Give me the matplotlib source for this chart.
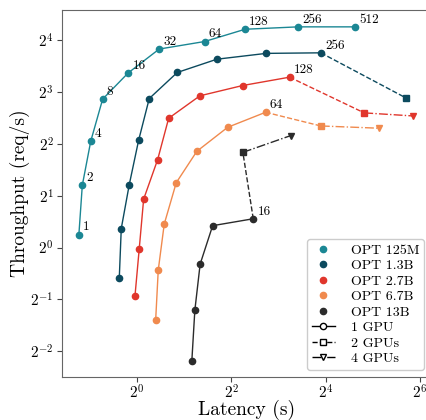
import matplotlib
matplotlib.use("Agg")
from matplotlib import pyplot as plt
from matplotlib.lines import Line2D
import numpy as np

plt.rcParams["font.family"] = "serif"
plt.rcParams["font.serif"] = ["cmr10", "DejaVu Serif"]
plt.rcParams["mathtext.fontset"] = "cm"
plt.rcParams["axes.unicode_minus"] = False

models = ["OPT 125M", "OPT 1.3B", "OPT 2.7B", "OPT 6.7B", "OPT 13B"]
colors = ["#1b8794", "#0c4a5e", "#e0362c", "#f08a4e", "#2b2b2b"]

# 1 GPU, batch sizes 1, 2, 4, ...
lat_125m = [0.426, 0.448, 0.507, 0.604, 0.880, 1.387, 2.70, 4.90, 10.7, 24.7]
thr_125m = [1.19, 2.30, 4.14, 7.27, 10.33, 14.2, 15.7, 18.5, 19.1, 19.1]
lat_1_3b = [0.771, 0.794, 0.893, 1.025, 1.198, 1.807, 3.24, 6.68, 14.9]
thr_1_3b = [0.662, 1.29, 2.32, 4.20, 7.33, 10.38, 12.4, 13.4, 13.5]
lat_2_7b = [0.971, 1.034, 1.103, 1.355, 1.593, 2.52, 4.72, 9.41]
thr_2_7b = [0.523, 0.985, 1.91, 3.24, 5.63, 7.60, 8.72, 9.75]
lat_6_7b = [1.316, 1.367, 1.493, 1.781, 2.41, 3.79, 6.62]
thr_6_7b = [0.379, 0.740, 1.37, 2.38, 3.62, 4.99, 6.10]
lat_13b = [2.24, 2.34, 2.53, 3.04, 5.52]
thr_13b = [0.221, 0.432, 0.802, 1.34, 1.47]

# 2 GPUs / 4 GPUs (None = not run)
lat_2gpu = [None, 52.0, 28.2, 14.9, 4.74]
thr_2gpu = [None, 7.39, 6.05, 5.08, 3.57]
lat_4gpu = [None, None, 57.3, 34.8, 9.60]
thr_4gpu = [None, None, 5.81, 4.93, 4.47]

lat_1gpu = [lat_125m, lat_1_3b, lat_2_7b, lat_6_7b, lat_13b]
thr_1gpu = [thr_125m, thr_1_3b, thr_2_7b, thr_6_7b, thr_13b]

fig = plt.figure(figsize=(4.27, 4.20), dpi=100)
ax = fig.add_axes([0.145, 0.102, 0.864, 0.874])
ax.set_xscale("log", base=2)
ax.set_yscale("log", base=2)

ms = 4.5
for i, name in enumerate(models):
    c = colors[i]
    lx, ty = lat_1gpu[i], thr_1gpu[i]
    ax.plot(lx, ty, "-", marker="o", color=c, lw=1.0, ms=ms, zorder=3)
    if lat_2gpu[i] is not None:
        ax.plot([lx[-1], lat_2gpu[i]], [ty[-1], thr_2gpu[i]], "--", color=c, lw=1.0, zorder=2)
        ax.plot(lat_2gpu[i], thr_2gpu[i], "s", color=c, ms=ms, zorder=3)
    if lat_4gpu[i] is not None:
        ax.plot([lat_2gpu[i], lat_4gpu[i]], [thr_2gpu[i], thr_4gpu[i]], "-.", color=c, lw=1.0, zorder=2)
        ax.plot(lat_4gpu[i], thr_4gpu[i], "v", color=c, ms=ms, zorder=3)
    # batch size labels
    if i == 0:
        for k, (x, y) in enumerate(zip(lx, ty)):
            ax.annotate(str(2 ** k), (x, y), xytext=(3, 3), textcoords="offset points", fontsize=9.5)
    else:
        ax.annotate(str(2 ** (len(lx) - 1)), (lx[-1], ty[-1]), xytext=(3, 3),
                    textcoords="offset points", fontsize=9.5)

ax.set_xlim(0.332, 75.0)
ax.set_ylim(0.177, 23.9)
ax.set_xticks([2.0 ** p for p in [0, 2, 4, 6]])
ax.set_xticklabels([r"$2^{%d}$" % p for p in [0, 2, 4, 6]])
ax.set_yticks([2.0 ** p for p in range(-2, 5)])
ax.set_yticklabels([r"$2^{%d}$" % p for p in range(-2, 5)])
ax.minorticks_off()
ax.tick_params(labelsize=11, color="#444444", pad=2.5)
ax.tick_params(axis="x", pad=1)
for s in ax.spines.values():
    s.set_color("#666666")
ax.set_xlabel("Latency (s)", fontsize=14)
ax.set_ylabel("Throughput (req/s)", fontsize=14)
ax.xaxis.set_label_coords(0.5, -0.063)
ax.yaxis.set_label_coords(-0.087, 0.5)

handles = [Line2D([], [], ls="none", marker="o", color=c, ms=ms) for c in colors]
handles += [
    Line2D([], [], ls="-", marker="o", color="black", mfc="white", lw=1.0, ms=ms),
    Line2D([], [], ls="--", marker="s", color="black", mfc="white", lw=1.0, ms=ms),
    Line2D([], [], ls="-.", marker="v", color="black", mfc="white", lw=1.0, ms=ms),
]
labels = models + ["1 GPU", "2 GPUs", "4 GPUs"]
ax.legend(handles, labels, loc="lower right", fontsize=10, handlelength=1.7,
          labelspacing=0.2, borderpad=0.35, handletextpad=1.1, framealpha=1.0)

fig.savefig("out.png", dpi=100)
